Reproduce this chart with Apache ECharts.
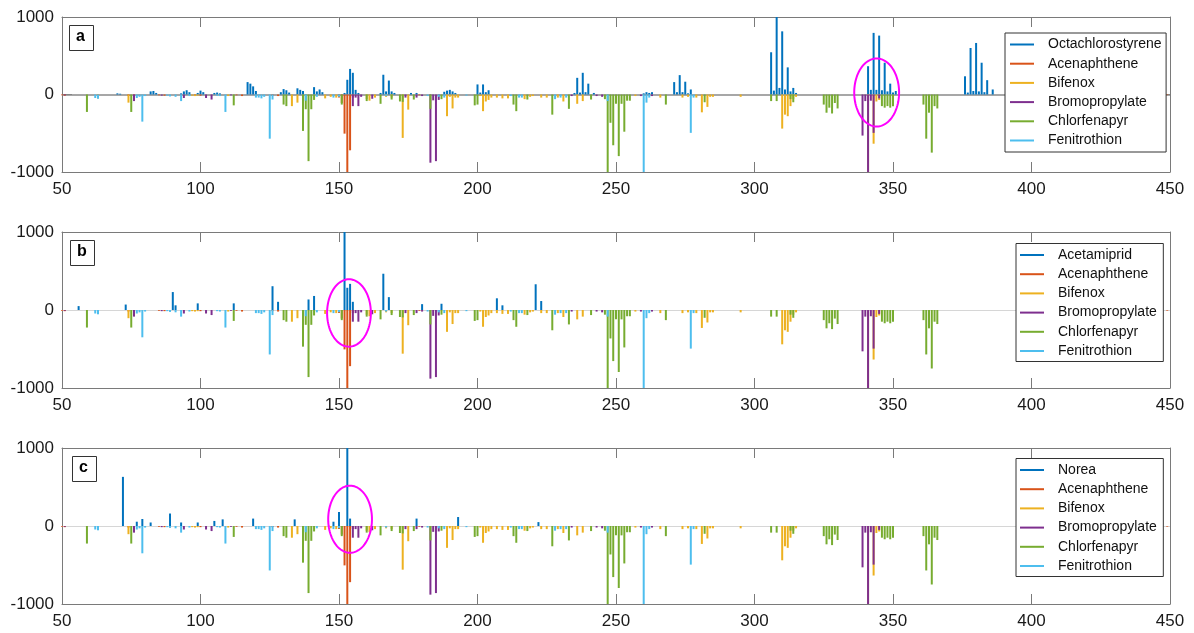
<!DOCTYPE html>
<html><head><meta charset="utf-8">
<script src="https://cdn.jsdelivr.net/npm/echarts@6/dist/echarts.min.js"></script>
<style>html,body{margin:0;padding:0;background:#fff}#chart{width:1194px;height:633px}</style>
</head><body><div id="chart"></div>
<script>
const FONT = 'Arial, "Liberation Sans", sans-serif';
const panelLetters = ['a', 'b', 'c'];
const queryNames = ['Octachlorostyrene', 'Acetamiprid', 'Norea'];
const libraryNames = ['Acenaphthene', 'Bifenox', 'Bromopropylate', 'Chlorfenapyr', 'Fenitrothion'];
const xTickValues = [50, 100, 150, 200, 250, 300, 350, 400, 450];
const yTickValues = [-1000, 0, 1000];

// query spectra (positive)
const octachlorostyrene = [[70,15],[71,10],[82,40],[83,45],[84,20],[93,15],[94,40],[95,55],[96,30],[99,20],[100,50],[101,30],[105,20],[106,25],[107,15],
[117,160],[118,140],[119,105],[120,45],[129,30],[130,70],[131,55],[132,25],[135,80],[136,60],[137,45],[141,95],[142,40],[143,65],[144,30],
[152,20],[153,190],[154,330],[155,280],[156,60],[157,20],[165,20],[166,255],[167,40],[168,180],[169,40],[170,20],[176,20],[178,20],
[188,35],[189,50],[190,60],[191,40],[192,20],[200,130],[201,25],[202,130],[203,30],[204,55],
[235,20],[236,215],[237,25],[238,280],[239,30],[240,140],[242,20],[260,15],[261,30],[262,20],[263,30],
[271,160],[272,30],[273,250],[274,30],[275,165],[276,15],[277,65],
[306,545],[307,50],[308,1000],[309,85],[310,815],[311,65],[312,350],[313,40],[314,85],[315,20],
[341,365],[342,60],[343,795],[344,60],[345,760],[346,55],[347,410],[348,40],[349,140],[350,25],[351,45],
[376,235],[377,25],[378,600],[379,45],[380,665],[381,40],[382,410],[383,30],[384,185],[386,65]];
const acetamiprid = [[56,50],[73,70],[90,230],[91,60],[99,85],[112,85],[126,305],[128,105],[139,135],[141,180],[152,1000],[153,285],[154,335],[155,105],[166,465],[168,165],[180,75],[187,80],[207,150],[209,60],[221,330],[223,115]];
const norea = [[72,630],[77,55],[79,90],[82,45],[89,160],[93,45],[99,45],[105,65],[108,85],[119,95],[134,85],[148,55],[150,180],[153,1000],[154,95],[178,95],[193,115],[222,50]];

// library spectra (negative, shared by all panels)
const acenaphthene = [[50,-10],[51,-15],[63,-30],[74,-20],[76,-40],[85,-10],[87,-15],[98,-12],[100,-15],[113,-10],[115,-20],[126,-15],[128,-20],[150,-40],[151,-110],[152,-505],[153,-1000],[154,-720],[155,-40],[179,-10],[449,-8]];
const bifenox = [[63,-50],[74,-105],[97,-15],[98,-20],[99,-15],[110,-20],[133,-150],[135,-105],[145,-50],[147,-30],[149,-40],[160,-60],[161,-80],[163,-40],[167,-30],[169,-40],[173,-560],[175,-195],[189,-280],[190,-30],[191,-180],[192,-40],[193,-40],[201,-20],[202,-215],[203,-90],[204,-70],[205,-40],[207,-40],[209,-50],[211,-50],[217,-60],[219,-30],[220,-20],[223,-40],[225,-40],[229,-40],[231,-90],[236,-120],[238,-85],[257,-20],[266,-40],[274,-40],[276,-30],[279,-40],[281,-230],[283,-160],[284,-30],[285,-30],[295,-30],[310,-440],[311,-260],[312,-280],[313,-150],[314,-60],[315,-30],[341,-1000],[343,-635],[344,-90],[345,-70]];
const bromopropylate = [[51,-10],[76,-85],[86,-15],[94,-45],[102,-45],[104,-65],[111,-10],[155,-150],[156,-40],[157,-150],[158,-30],[162,-55],[174,-40],[178,-40],[180,-20],[183,-880],[184,-75],[185,-860],[186,-70],[234,-20],[243,-20],[245,-30],[259,-20],[263,-20],[339,-530],[340,-85],[341,-1000],[342,-80],[343,-495],[345,-50]];
const chlorfenapyr = [[59,-225],[75,-225],[112,-140],[130,-130],[131,-150],[137,-470],[138,-190],[139,-860],[140,-190],[141,-70],[151,-130],[160,-85],[165,-120],[169,-65],[172,-90],[173,-95],[177,-65],[183,-185],[187,-60],[199,-140],[200,-130],[213,-130],[214,-215],[218,-65],[227,-260],[233,-185],[241,-65],[246,-60],[247,-1000],[248,-365],[249,-655],[250,-120],[251,-795],[252,-120],[253,-480],[254,-80],[255,-80],[268,-130],[282,-100],[306,-85],[308,-85],[313,-60],[314,-100],[325,-130],[326,-235],[327,-170],[328,-245],[329,-110],[330,-180],[346,-150],[347,-170],[348,-150],[349,-170],[350,-150],[361,-130],[362,-570],[363,-235],[364,-750],[365,-150],[366,-180]];
const fenitrothion = [[62,-45],[63,-55],[77,-45],[78,-30],[79,-350],[80,-20],[88,-15],[89,-25],[91,-30],[93,-85],[96,-20],[106,-15],[107,-20],[109,-225],[120,-40],[121,-40],[122,-50],[123,-30],[125,-570],[126,-65],[138,-80],[142,-30],[148,-40],[150,-30],[167,-20],[182,-20],[186,-30],[188,-40],[196,-15],[212,-20],[215,-40],[216,-40],[228,-60],[230,-40],[232,-40],[247,-85],[260,-1000],[261,-105],[262,-40],[277,-495],[278,-40]];

// highlighted region ellipses: [centre m/z, centre value, half-width m/z, half-height value]
const ellipses = [[344.1, 26, 8.1, 439], [153.6, -38, 7.9, 432], [154.0, 87, 7.9, 430]];

const queryData = [octachlorostyrene, acetamiprid, norea];
const libraryData = [acenaphthene, bifenox, bromopropylate, chlorfenapyr, fenitrothion];
const colors = ['#0072BD', '#D95319', '#EDB120', '#7E2F8E', '#77AC30', '#4DBEEE'];

const gridTops = [17, 232, 448];
const gridHeights = [155, 156, 156];
const zeroLine = [{color: '#8a8a8a', width: 1.5}, {color: '#d6d6d6', width: 1.2}, {color: '#d6d6d6', width: 1.2}];
const legendBoxes = [{left: 1005, top: 33, padding: [4.5, 4.5, 4.5, 5]}, {left: 1016, top: 243.5, padding: [4.5, 6.5, 3.5, 4]}, {left: 1016, top: 458.5, padding: [4.5, 6.5, 3.5, 4]}];
const letterBoxes = [[69, 25], [70, 240], [72, 456]];

const axisCol = '#7a7a7a';
const plainNum = v => String(v);
const grid = [], xAxis = [], yAxis = [], series = [], legend = [], graphic = [];
for (let p = 0; p < 3; p++) {
  grid.push({left: 62, width: 1108, top: gridTops[p], height: gridHeights[p]});
  const xBase = {gridIndex: p, type: 'value', min: 50, max: 450, interval: 50,
    axisLine: {show: true, onZero: false, lineStyle: {color: axisCol, width: 1}},
    axisTick: {show: true, inside: true, length: 10, lineStyle: {color: axisCol}},
    splitLine: {show: false}};
  xAxis.push(Object.assign({}, xBase, {position: 'bottom',
    axisLabel: {show: true, fontSize: 17, color: '#1a1a1a', fontFamily: FONT, margin: 9,
      formatter: plainNum}}));
  xAxis.push(Object.assign({}, xBase, {position: 'top', axisLabel: {show: false}}));
  const yBase = {gridIndex: p, type: 'value', min: -1000, max: 1000, interval: 1000,
    axisLine: {show: true, onZero: false, lineStyle: {color: axisCol, width: 1}},
    axisTick: {show: true, inside: true, length: 10, lineStyle: {color: axisCol}},
    splitLine: {show: false}};
  yAxis.push(Object.assign({}, yBase, {position: 'left',
    axisLabel: {show: true, fontSize: 17, color: '#1a1a1a', fontFamily: FONT, margin: 8,
      padding: [4, 0, 0, 0], formatter: plainNum}}));
  yAxis.push(Object.assign({}, yBase, {position: 'right', axisLabel: {show: false}}));

  const names = [queryNames[p]].concat(libraryNames);
  const datas = [queryData[p]].concat(libraryData);
  names.forEach((nm, i) => {
    const s = {type: 'bar', name: nm, xAxisIndex: 2 * p, yAxisIndex: 2 * p,
      data: datas[i], barWidth: 2, barGap: '-100%', itemStyle: {color: colors[i]},
      emphasis: {disabled: true}, silent: true, z: 2};
    if (i === 0) {
      s.markLine = {silent: true, symbol: ['none', 'none'], label: {show: false}, z: 1,
        lineStyle: {color: zeroLine[p].color, width: zeroLine[p].width, type: 'solid'},
        data: [{yAxis: 0}], animation: false};
    }
    series.push(s);
  });
  series.push({type: 'custom', xAxisIndex: 2 * p, yAxisIndex: 2 * p, silent: true, z: 10,
    data: [ellipses[p]],
    renderItem: function (params, api) {
      const cx = api.value(0), cy = api.value(1), rx = api.value(2), ry = api.value(3);
      const pts = [];
      for (let k = 0; k < 96; k++) {
        const t = k / 96 * Math.PI * 2;
        pts.push(api.coord([cx + rx * Math.cos(t), cy + ry * Math.sin(t)]));
      }
      return {type: 'polygon', shape: {points: pts},
        style: {fill: 'none', stroke: '#FF00FF', lineWidth: 2}};
    }});

  legend.push({orient: 'vertical', left: legendBoxes[p].left, top: legendBoxes[p].top, z: 50,
    padding: legendBoxes[p].padding, itemGap: 5.2, itemWidth: 24, itemHeight: 2, icon: 'rect',
    borderColor: '#333', borderWidth: 1, backgroundColor: '#fff', selectedMode: false,
    data: names,
    textStyle: {fontSize: 14, fontFamily: FONT, color: '#111', lineHeight: 14, padding: [0, 0, 0, 9]}});

  graphic.push({type: 'rect', left: letterBoxes[p][0], top: letterBoxes[p][1], z: 100,
    shape: {width: 24, height: 25}, style: {fill: '#fff', stroke: '#333', lineWidth: 1}});
  graphic.push({type: 'text', left: letterBoxes[p][0] + 7, top: letterBoxes[p][1] + 4, z: 101,
    style: {text: panelLetters[p], fontSize: 16, fontWeight: 'bold', fontFamily: FONT, fill: '#000'}});
}

const chart = echarts.init(document.getElementById('chart'), null, {renderer: 'canvas'});
chart.setOption({animation: false, backgroundColor: '#fff', grid, xAxis, yAxis, series, legend, graphic});
</script></body></html>
